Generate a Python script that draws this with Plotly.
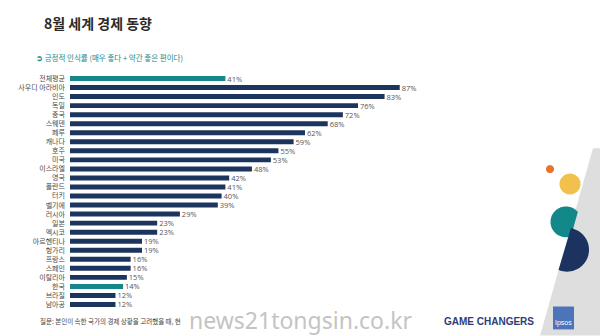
import math
import plotly.graph_objects as go

countries = ["전체평균", "사우디 아라비아", "인도", "독일", "중국", "스웨덴", "페루", "캐나다", "호주",
             "미국", "이스라엘", "영국", "폴란드", "터키", "벨기에", "러시아", "일본", "멕시코",
             "아르헨티나", "헝가리", "프랑스", "스페인", "이탈리아", "한국", "브라질", "남아공"]
values = [41, 87, 83, 76, 72, 68, 62, 59, 55, 53, 48, 42, 41, 40, 39, 29, 23, 23,
          19, 19, 16, 16, 15, 14, 12, 12]
highlight = ["전체평균", "한국"]

NAVY = "#1c355e"
TEAL = "#15878a"
colors = [TEAL if c in highlight else NAVY for c in countries]
labels = [f"\u00a0{v}%" for v in values]

W, H = 600, 336
L, R, T, B = 70, 151, 73.5, 26.5
PW, PH = W - L - R, H - T - B

def px(x):
    return (x - L) / PW

def py(y):
    return (H - B - y) / PH

FONT = "Noto Sans CJK KR"

fig = go.Figure(go.Bar(
    x=values, y=countries, orientation="h",
    marker=dict(color=colors, line=dict(width=0)),
    text=labels, textposition="outside", cliponaxis=False, constraintext="none",
    textfont=dict(size=7.5, color="#555555", family="Open Sans"),
    width=0.55, hoverinfo="skip",
))

fig.update_xaxes(range=[0, 100], visible=False, fixedrange=True)
fig.update_yaxes(categoryorder="array", categoryarray=countries, range=[25.5, -0.5],
                 showgrid=False, zeroline=False, showline=False, ticks="",
                 ticklabelstandoff=4,
                 tickfont=dict(size=7, color="#4a4a4a", family=FONT))

shapes = []

def path_from(points):
    s = "M " + " L ".join(f"{px(x):.5f},{py(y):.5f}" for x, y in points) + " Z"
    return s

def gray_x(y):
    return 581 - 0.28 * (y - 190)

shapes.append(dict(type="path", xref="paper", yref="paper", layer="below",
                   path=path_from([(593, 148), (600, 148), (600, 336), (gray_x(336), 336)]),
                   fillcolor="#dedede", line=dict(width=0)))

def circle_pts(cx, cy, r, n=72):
    return [(cx + r * math.cos(2 * math.pi * i / n), cy + r * math.sin(2 * math.pi * i / n)) for i in range(n)]

def clip(poly, f):
    out = []
    n = len(poly)
    for i in range(n):
        a, b = poly[i], poly[(i + 1) % n]
        fa, fb = f(a), f(b)
        if fa >= 0:
            out.append(a)
        if (fa >= 0) != (fb >= 0):
            t = fa / (fa - fb)
            out.append((a[0] + t * (b[0] - a[0]), a[1] + t * (b[1] - a[1])))
    return out

shapes.append(dict(type="path", xref="paper", yref="paper",
                   path=path_from(circle_pts(550, 169, 4)), fillcolor="#e8732c", line=dict(width=0)))
shapes.append(dict(type="path", xref="paper", yref="paper",
                   path=path_from(circle_pts(570, 184, 10.5)), fillcolor="#f2c04c", line=dict(width=0)))
teal = clip(circle_pts(566, 222, 15.5), lambda p: (gray_x(p[1]) + 3) - p[0])
shapes.append(dict(type="path", xref="paper", yref="paper",
                   path=path_from(teal), fillcolor="#13888a", line=dict(width=0)))
def navy_line_x(y):
    return 571 - (13 / 44) * (y - 228)
navy = clip(circle_pts(567, 250, 22), lambda p: p[0] - navy_line_x(p[1]))
shapes.append(dict(type="path", xref="paper", yref="paper",
                   path=path_from(navy), fillcolor="#1c335f", line=dict(width=0)))
shapes.append(dict(type="rect", xref="paper", yref="paper",
                   x0=px(553), x1=px(574), y0=py(330), y1=py(307),
                   fillcolor="#4b74ba", line=dict(width=0)))

annotations = [
    dict(text="<b>8월 세계 경제 동향</b>", x=px(42), y=py(22), xanchor="left", yanchor="middle",
         font=dict(size=14, color="#2a2a2a", family=FONT)),
    dict(text="<b>➲</b> 긍정적 인식률 (매우 좋다 + 약간 좋은 편이다)", x=px(34), y=py(57),
         xanchor="left", yanchor="middle", font=dict(size=7.5, color="#1a8a8a", family=FONT)),
    dict(text="질문: 본인이 속한 국가의 경제 상황을 고려했을 때, 현", x=px(38), y=py(322),
         xanchor="left", yanchor="middle", font=dict(size=6.5, color="#444444", family=FONT)),
    dict(text="news21tongsin.co.kr", x=px(187), y=py(321), xanchor="left", yanchor="middle",
         font=dict(size=23, color="#c4c4c4", family="Noto Sans")),
    dict(text="<b>GAME CHANGERS</b>", x=px(442), y=py(322), xanchor="left", yanchor="middle",
         font=dict(size=10, color="#2e3c7a", family="Liberation Sans")),
    dict(text="Ipsos", x=px(563.5), y=py(324), xanchor="center", yanchor="middle",
         font=dict(size=7, color="#ffffff", family="Liberation Sans")),
]
for a in annotations:
    a.update(xref="paper", yref="paper", showarrow=False)

fig.update_layout(
    width=W, height=H, margin=dict(l=L, r=R, t=T, b=B, autoexpand=False),
    paper_bgcolor="white", plot_bgcolor="rgba(0,0,0,0)",
    showlegend=False, bargap=0.45,
    shapes=shapes, annotations=annotations,
)

fig.write_html("out.html")
